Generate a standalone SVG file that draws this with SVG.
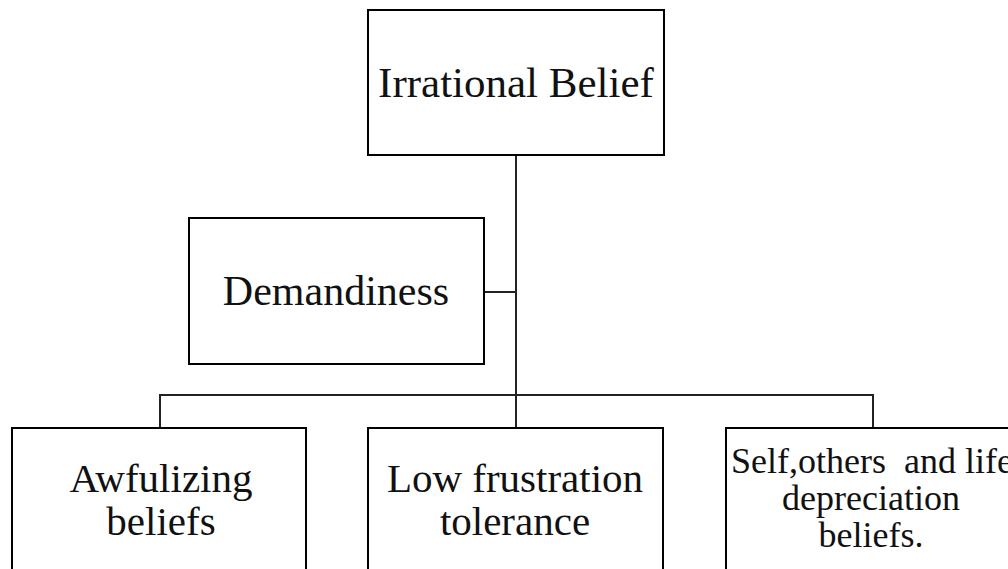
<svg xmlns="http://www.w3.org/2000/svg" width="1008" height="569" viewBox="0 0 1008 569">
<style>
.box{fill:#fff;stroke:#000;stroke-width:2}
.t{font-family:"Liberation Serif","Times New Roman",serif;fill:#111;text-anchor:middle}
.c{fill:none;stroke:#222;stroke-width:2}
</style>
<rect width="1008" height="569" fill="#fff"/>
<g id="connectors">
<line class="c" x1="516" y1="155" x2="516" y2="428"/>
<line class="c" x1="484" y1="292" x2="516" y2="292"/>
<polyline class="c" points="160,428 160,395 873,395 873,428"/>
</g>
<g id="irrational-belief">
<rect class="box" x="368" y="10" width="296" height="145"/>
<text class="t" x="516" y="97" font-size="43">Irrational Belief</text>
</g>
<g id="demandiness">
<rect class="box" x="189" y="218" width="295" height="146"/>
<text class="t" x="336" y="305" font-size="42">Demandiness</text>
</g>
<g id="awfulizing">
<rect class="box" x="12" y="428" width="294" height="160"/>
<text class="t" x="161" y="492" font-size="41">Awfulizing</text>
<text class="t" x="161" y="535" font-size="41">beliefs</text>
</g>
<g id="low-frustration">
<rect class="box" x="368" y="428" width="295" height="160"/>
<text class="t" x="515" y="492" font-size="41">Low frustration</text>
<text class="t" x="515" y="535" font-size="41">tolerance</text>
</g>
<g id="depreciation">
<rect class="box" x="726" y="428" width="296" height="160"/>
<text class="t" x="872" y="473" font-size="36" xml:space="preserve">Self,others  and life</text>
<text class="t" x="871" y="510" font-size="36">depreciation</text>
<text class="t" x="871" y="547" font-size="36">beliefs.</text>
</g>
</svg>
